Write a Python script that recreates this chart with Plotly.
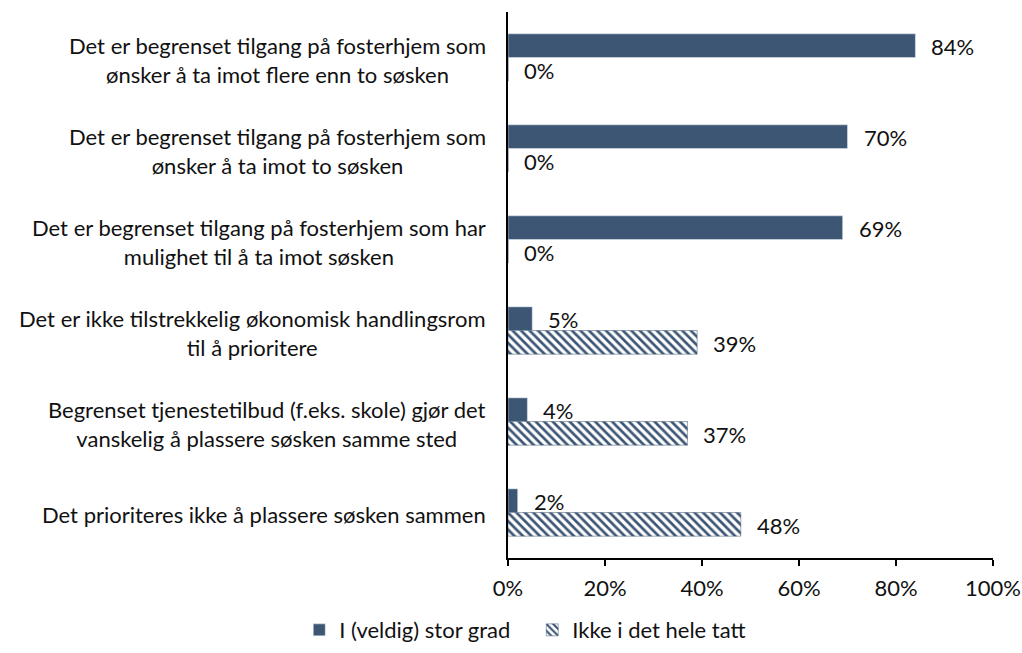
import plotly.graph_objects as go

categories = [
    "Det er begrenset tilgang på fosterhjem som<br>ønsker å ta imot flere enn to søsken",
    "Det er begrenset tilgang på fosterhjem som<br>ønsker å ta imot to søsken",
    "Det er begrenset tilgang på fosterhjem som har<br>mulighet til å ta imot søsken",
    "Det er ikke tilstrekkelig økonomisk handlingsrom<br>til å prioritere",
    "Begrenset tjenestetilbud (f.eks. skole) gjør det<br>vanskelig å plassere søsken samme sted",
    "Det prioriteres ikke å plassere søsken sammen",
]
series_names = ["I (veldig) stor grad", "Ikke i det hele tatt"]
stor_grad = [0.84, 0.70, 0.69, 0.05, 0.04, 0.02]
ikke = [0.0, 0.0, 0.0, 0.39, 0.37, 0.48]
x_ticks = [0, 0.2, 0.4, 0.6, 0.8, 1.0]
x_ticklabels = ["0%", "20%", "40%", "60%", "80%", "100%"]

BLUE = "#3c5674"
FONT = "Lato"
FS = 22
TXT = "#111111"

fig = go.Figure()
fig.add_trace(go.Bar(
    y=categories, x=stor_grad, orientation="h", name=series_names[0],
    marker=dict(color=BLUE),
))
fig.add_trace(go.Bar(
    y=categories, x=ikke, orientation="h", name=series_names[1],
    marker=dict(color=BLUE, line=dict(color=BLUE, width=0.5),
                pattern=dict(shape="\\", fgcolor=BLUE, bgcolor="white", size=6, solidity=0.45, fillmode="replace")),
))

annotations = []
for cat, v1, v2 in zip(categories, stor_grad, ikke):
    annotations.append(dict(x=v1, y=cat, xref="x", yref="y", text=f"{round(v1*100)}%",
                            showarrow=False, xanchor="left", yanchor="middle",
                            xshift=14, yshift=11, font=dict(family=FONT, size=FS, color=TXT)))
    annotations.append(dict(x=v2, y=cat, xref="x", yref="y", text=f"{round(v2*100)}%",
                            showarrow=False, xanchor="left", yanchor="middle",
                            xshift=14, yshift=-13, font=dict(family=FONT, size=FS, color=TXT)))
    annotations.append(dict(x=0, y=cat, xref="paper", yref="y", text=cat, align="center",
                            showarrow=False, xanchor="right", yanchor="middle",
                            xshift=-20, yshift=-2, font=dict(family=FONT, size=FS, color=TXT)))

fig.update_layout(
    width=1022, height=653,
    margin=dict(l=508, r=29, t=12, b=95, autoexpand=False),
    paper_bgcolor="white", plot_bgcolor="white",
    barmode="group", bargap=0.48, bargroupgap=0,
    font=dict(family=FONT, size=FS, color=TXT),
    annotations=annotations,
    legend=dict(orientation="h", x=0.05, xanchor="center", y=-0.132, yanchor="middle",
                font=dict(family=FONT, size=FS, color=TXT), traceorder="normal",
                itemwidth=30, entrywidth=188, entrywidthmode="pixels"),
    showlegend=True,
)
fig.update_xaxes(range=[0, 1], tickvals=x_ticks, ticktext=x_ticklabels, showgrid=False,
                 showline=True, linecolor="black", linewidth=1.5, ticks="outside", ticklen=6,
                 tickcolor="black", tickwidth=1.5, zeroline=False, fixedrange=True,
                 automargin=False, ticklabelstandoff=4)
fig.update_yaxes(categoryorder="array", categoryarray=categories, range=[5.5, -0.5],
                 showticklabels=False, showgrid=False, showline=True, linecolor="black",
                 linewidth=1.5, ticks="", fixedrange=True, automargin=False)

fig.write_html("out.html", config={"displayModeBar": False},
               post_script="document.body.style.margin='0px';")
